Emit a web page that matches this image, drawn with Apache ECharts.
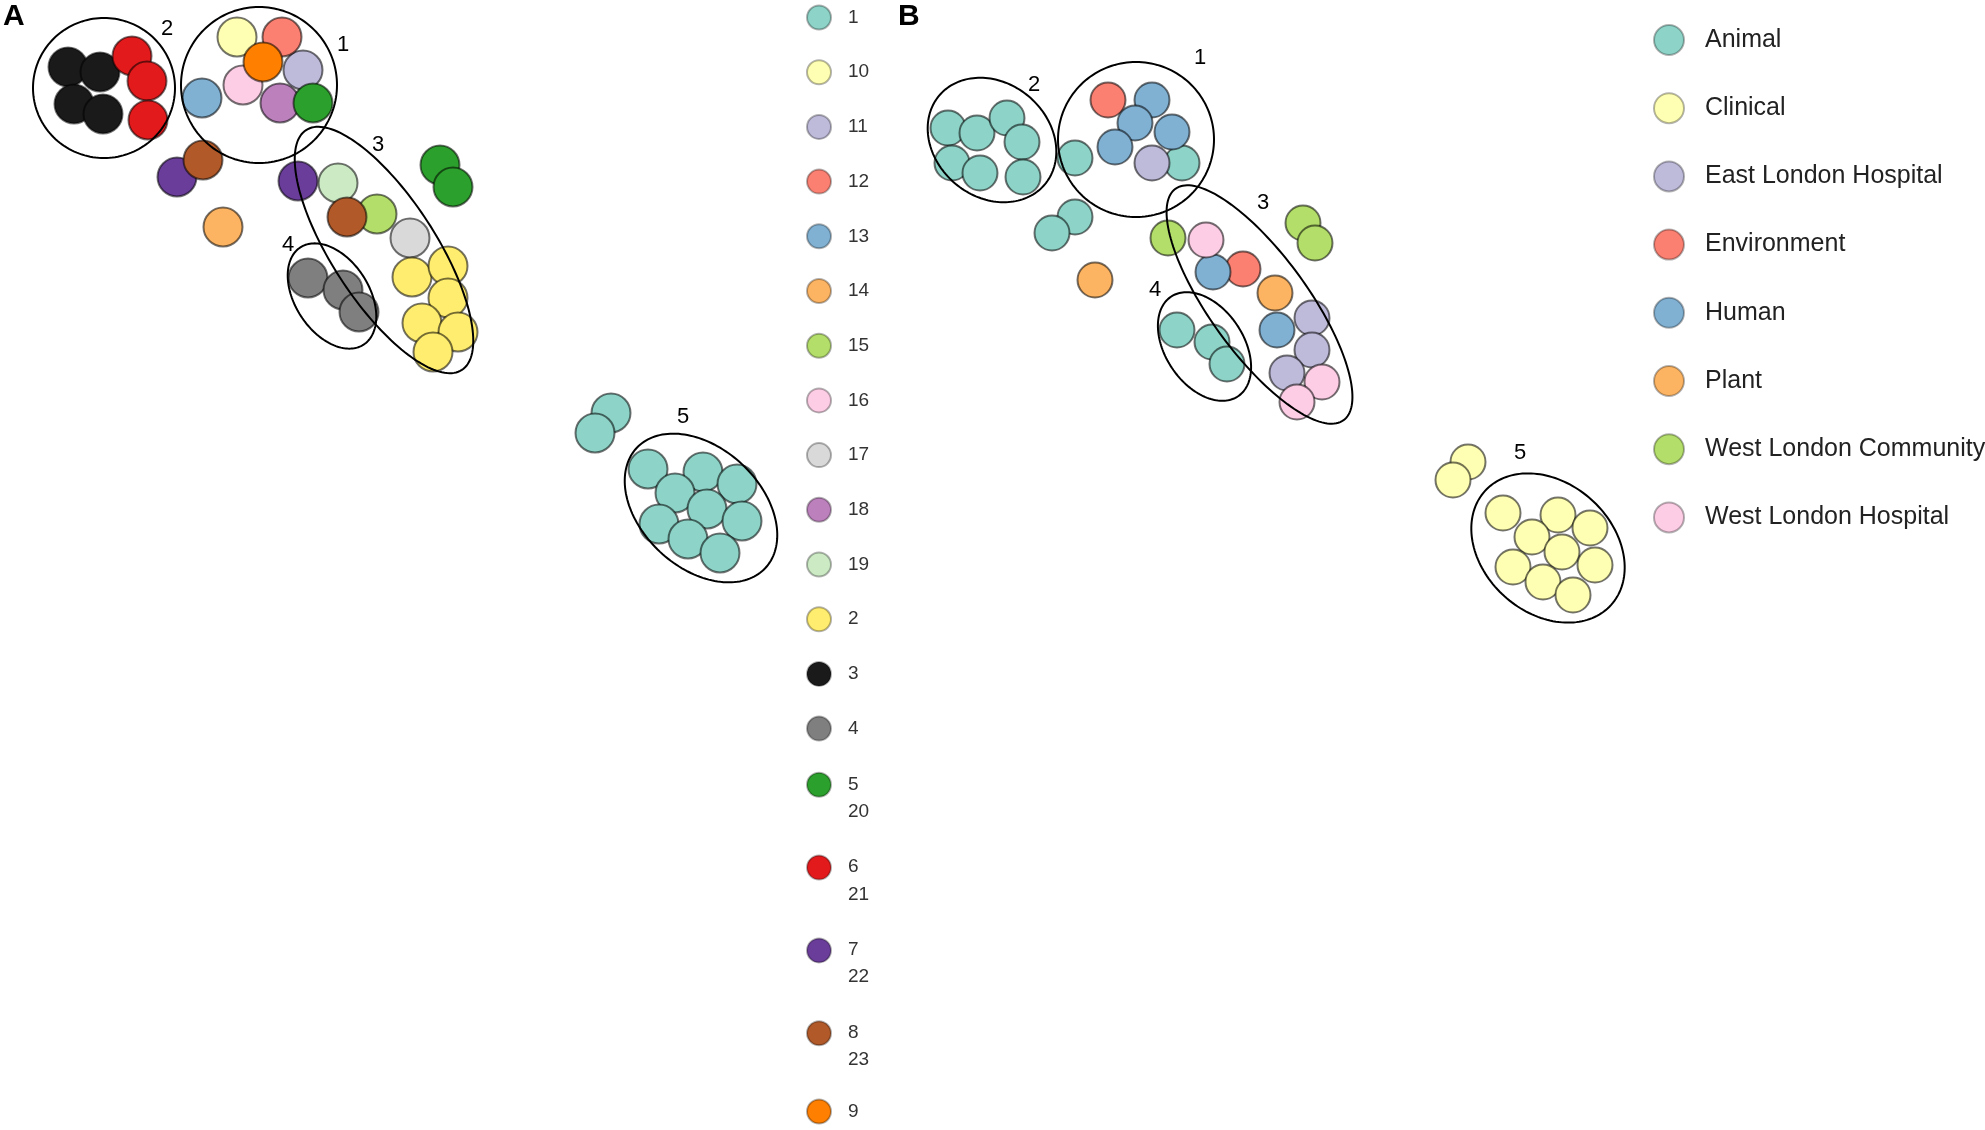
<!DOCTYPE html>
<html><head><meta charset="utf-8">
<script src="https://cdn.jsdelivr.net/npm/echarts@6/dist/echarts.min.js"></script>
<style>html,body{margin:0;padding:0;background:#fff}#c{width:1985px;height:1130px}</style>
</head><body><div id="c"></div>
<script>
// ---------- Panel A: isolates coloured by cluster ----------
const clustersA = ['1','10','11','12','13','14','15','16','17','18','19','2','3','4','5','6','7','8','9'];
const legendA1 = ['1','10','11','12','13','14','15','16','17','18','19','2','3','4'];
const legendA2 = ['5','6','7','8'];
const legendA2Second = ['20','21','22','23'];
const legendA3 = ['9'];
const colorsA = ['#8dd3c7','#ffffb3','#bebada','#fb8072','#80b1d3','#fdb462','#b3de69','#fccde5','#d9d9d9','#bc80bd','#ccebc5','#ffed6f','#1a1a1a','#7f7f7f','#2ca02c','#e31a1c','#6a3d9a','#b15928','#ff7f00'];

const pointClusterA = ['3','3','3','3','6','6','6','10','12','9','11','16','13','18','5','5','5','8','8','7','7','14','19','15','17','4','4','4','2','2','2','2','2','2','1','1','1','1','1','1','1','1','1','1','1'];
const pointXA = [6.8,10.0,7.4,10.3, 13.2,14.7,14.8, 23.7,28.2,26.3,30.3,24.3,20.2,28.0, 31.3,44.0,45.3, 20.3,34.7, 17.7,29.8, 22.3, 33.8, 37.7, 41.0, 30.8,34.3,35.9, 41.2,44.8,44.8,42.2,45.8,43.3, 61.1,59.5,64.8,70.3,73.7,67.5,70.7,65.9,74.2,68.8,72.0];
const pointYA = [6.7,7.2,10.4,11.4, 5.6,8.1,12.0, 3.7,3.7,6.2,7.0,8.5,9.8,10.3, 10.3,16.5,18.7, 16.0,21.7, 17.7,18.1, 22.7, 18.3, 21.4, 23.8, 27.8,29.0,31.2, 27.7,26.6,29.8,32.3,33.2,35.2, 41.3,43.3,46.9,47.2,48.4,49.3,50.9,52.4,52.1,53.9,55.3];

// cluster outlines: [centreX, centreY, semiMajor, semiMinor, tiltDeg, labelX, labelY]
const groupLabelsA = ['1','2','3','4','5'];
const groupEllipsesA = [
  [25.9, 8.5, 7.8, 7.8, 0, 34.3, 4.5],
  [10.4, 8.8, 7.1, 7.0, 0, 16.7, 2.9],
  [38.4, 25.0, 14.3, 5.2, 57, 37.8, 14.5],
  [33.2, 29.6, 5.8, 3.7, 57, 28.8, 24.5],
  [70.1, 50.8, 8.8, 6.0, 43, 68.3, 41.7]
];

// ---------- Panel B: isolates coloured by source ----------
const sourcesB = ['Animal','Clinical','East London Hospital','Environment','Human','Plant','West London Community','West London Hospital'];
const colorsB = ['#8dd3c7','#ffffb3','#bebada','#fb8072','#80b1d3','#fdb462','#b3de69','#fccde5'];
const pointSourceB = [
  'Animal','Animal','Animal','Animal','Animal','Animal','Animal','Animal','Animal','Animal','Animal','Animal','Animal','Animal',
  'Clinical','Clinical','Clinical','Clinical','Clinical','Clinical','Clinical','Clinical','Clinical','Clinical','Clinical',
  'East London Hospital','East London Hospital','East London Hospital','East London Hospital',
  'Environment','Environment',
  'Human','Human','Human','Human','Human','Human',
  'Plant','Plant',
  'West London Community','West London Community','West London Community',
  'West London Hospital','West London Hospital','West London Hospital'];
const pointXB = [6.8,9.7,12.7,14.2,7.2,10.0,14.3,19.5,30.2,19.5,17.2,29.7,33.2,34.7,
  58.8,57.3,62.3,67.8,71.0,65.2,68.2,63.3,71.5,66.3,69.3,
  27.2,43.2,43.2,40.7,
  22.8,36.3,
  27.2,25.5,29.2,23.5,33.3,39.7,
  21.5,39.5,
  28.8,42.3,43.5,
  32.6,44.2,41.7];
const pointYB = [12.8,13.3,11.8,14.2,16.3,17.3,17.7,15.8,16.3,21.7,23.3,33.0,34.2,36.4,
  46.2,48.0,51.3,51.5,52.8,53.7,55.2,56.7,56.5,58.2,59.5,
  16.3,31.8,35.0,37.3,
  10.0,26.9,
  10.0,12.3,13.2,14.7,27.2,33.0,
  28.0,29.3,
  23.8,22.3,24.3,
  24.0,38.2,40.2];

const groupLabelsB = ['1','2','3','4','5'];
const groupEllipsesB = [
  [25.6, 13.95, 7.8, 7.75, 0, 32.0, 5.8],
  [11.2, 14.0, 6.9, 5.7, 40, 15.4, 8.5],
  [37.95, 30.45, 14.3, 4.9, 54, 38.3, 20.3],
  [32.45, 34.65, 6.0, 3.9, 56, 27.5, 29.0],
  [66.8, 54.8, 8.5, 6.5, 42, 64.0, 45.3]
];

// ---------- build ----------
const FONT = 'Liberation Sans, Arial, sans-serif';

function scatterSeries(names, colors, pName, pX, pY, axisIdx, size) {
  return names.map((n, i) => ({
    type: 'scatter', name: n, xAxisIndex: axisIdx, yAxisIndex: axisIdx,
    symbol: 'circle', symbolSize: size, clip: false,
    itemStyle: { color: colors[i], borderColor: 'rgba(0,0,0,0.55)', borderWidth: 2, opacity: 1 },
    emphasis: { disabled: true },
    data: pName.map((c, k) => c === n ? [pX[k], pY[k]] : null).filter(d => d)
  }));
}

function ellipseSeries(rows, labels, axisIdx) {
  return {
    type: 'custom', xAxisIndex: axisIdx, yAxisIndex: axisIdx, z: 5, silent: true,
    data: rows, encode: { x: 0, y: 1 },
    renderItem: function (params, api) {
      const c = api.coord([api.value(0), api.value(1)]);
      const sa = Math.abs(api.size([api.value(2), 0])[0]);
      const sb = Math.abs(api.size([0, api.value(3)])[1]);
      const th = api.value(4) * Math.PI / 180;
      const pts = [];
      for (let k = 0; k < 160; k++) {
        const t = 2 * Math.PI * k / 160;
        const ex = sa * Math.cos(t), ey = sb * Math.sin(t);
        pts.push([c[0] + ex * Math.cos(th) - ey * Math.sin(th), c[1] + ex * Math.sin(th) + ey * Math.cos(th)]);
      }
      const lp = api.coord([api.value(5), api.value(6)]);
      return {
        type: 'group', children: [
          { type: 'polygon', shape: { points: pts }, style: { fill: null, stroke: '#000', lineWidth: 2 } },
          { type: 'text', x: lp[0], y: lp[1], style: { text: labels[params.dataIndex], fill: '#000', fontSize: 22, fontFamily: FONT, align: 'center', verticalAlign: 'middle' } }
        ]
      };
    }
  };
}

const chart = echarts.init(document.getElementById('c'), null, { renderer: 'canvas' });
const axisHidden = { show: false, splitLine: { show: false } };
const legendIconStyle = { borderColor: 'rgba(0,0,0,0.3)', borderWidth: 2 };
chart.setOption({
  backgroundColor: '#fff',
  animation: false,
  title: [
    { text: 'A', left: 3, top: 2, padding: 0, textStyle: { fontSize: 30, fontWeight: 'bold', fontFamily: FONT, color: '#000' } },
    { text: 'B', left: 898, top: 2, padding: 0, textStyle: { fontSize: 30, fontWeight: 'bold', fontFamily: FONT, color: '#000' } }
  ],
  grid: [
    { left: 0, top: 0, width: 800, height: 640 },
    { left: 880, top: 0, width: 800, height: 640 }
  ],
  xAxis: [
    Object.assign({ type: 'value', gridIndex: 0, min: 0, max: 80 }, axisHidden),
    Object.assign({ type: 'value', gridIndex: 1, min: 0, max: 80 }, axisHidden)
  ],
  yAxis: [
    Object.assign({ type: 'value', gridIndex: 0, min: 0, max: 64, inverse: true }, axisHidden),
    Object.assign({ type: 'value', gridIndex: 1, min: 0, max: 64, inverse: true }, axisHidden)
  ],
  legend: [
    {
      data: legendA1, orient: 'vertical', left: 806, top: 4.5, padding: 0, height: 740,
      itemWidth: 24, itemHeight: 24, itemGap: 28.7, icon: 'circle', selectedMode: false,
      itemStyle: legendIconStyle,
      textStyle: { fontSize: 19, lineHeight: 20, fontFamily: FONT, color: '#333', padding: [0, 0, 0, 12] }
    },
    {
      data: legendA2, orient: 'vertical', left: 806, top: 771.8, padding: 0,
      itemWidth: 24, itemHeight: 24, itemGap: 33.6, icon: 'circle', selectedMode: false,
      itemStyle: legendIconStyle,
      formatter: function (name) {
        return '{a|' + name + '}\n{b|' + legendA2Second[legendA2.indexOf(name)] + '}';
      },
      textStyle: {
        fontSize: 19, fontFamily: FONT, color: '#333', padding: [0, 0, 0, 12],
        rich: {
          a: { fontSize: 19, fontFamily: FONT, color: '#333', lineHeight: 53.4 },
          b: { fontSize: 19, fontFamily: FONT, color: '#333', lineHeight: 1 }
        }
      }
    },
    {
      data: legendA3, orient: 'vertical', left: 806, top: 1098.5, padding: 0,
      itemWidth: 24, itemHeight: 24, icon: 'circle', selectedMode: false,
      itemStyle: legendIconStyle,
      textStyle: { fontSize: 19, lineHeight: 20, fontFamily: FONT, color: '#333', padding: [0, 0, 0, 12] }
    },
    {
      data: sourcesB, orient: 'vertical', left: 1653, top: 24, padding: 0,
      itemWidth: 30, itemHeight: 30, itemGap: 36.2, icon: 'circle', selectedMode: false,
      itemStyle: legendIconStyle,
      textStyle: { fontSize: 25, lineHeight: 26, fontFamily: FONT, color: '#222', padding: [0, 0, 0, 16] }
    }
  ],
  series: [].concat(
    scatterSeries(clustersA, colorsA, pointClusterA, pointXA, pointYA, 0, 39),
    scatterSeries(sourcesB, colorsB, pointSourceB, pointXB, pointYB, 1, 35),
    [ellipseSeries(groupEllipsesA, groupLabelsA, 0), ellipseSeries(groupEllipsesB, groupLabelsB, 1)]
  )
});
</script>
</body></html>
